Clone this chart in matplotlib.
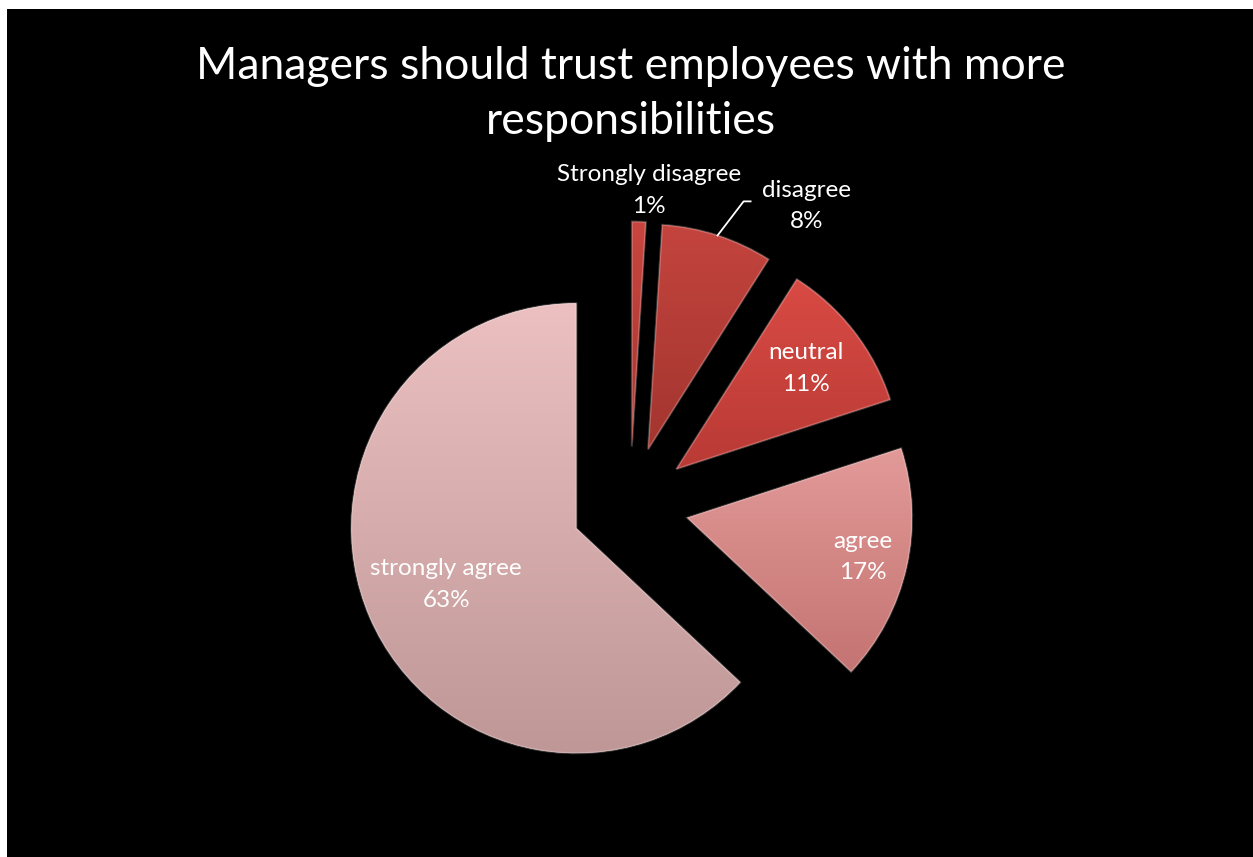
import numpy as np
import matplotlib
matplotlib.use("Agg")
import matplotlib.pyplot as plt
from matplotlib.patches import Wedge
from matplotlib.colors import to_rgb

plt.rcParams['font.family'] = ['Lato', 'DejaVu Sans']

# Survey answers, clockwise from 12 o'clock
answers = ['Strongly disagree', 'disagree', 'neutral', 'agree', 'strongly agree']
shares = [1, 8, 11, 17, 63]
top_colors = ['#c8463f', '#c4443e', '#d94a44', '#e29a98', '#ecc0c0']
bottom_colors = ['#a83631', '#a3352f', '#b93a35', '#c47472', '#bf9797']
# label distance (fraction of radius) and angle tweak (degrees)
label_dist = [1.14, 1.29, 0.73, 0.80, 0.63]
label_turn = [-2, -15, 0, 0, 0]

W, H = 1253, 857
fig = plt.figure(figsize=(W / 100, H / 100), dpi=100, facecolor='white')
ax = fig.add_axes([7 / W, 0, 1 - 7 / W, (H - 9) / H])
ax.set_facecolor('black')

cx, cy, r = 630, 352, 225
explode = [0.26 * r] * len(shares)   # pie offsets are in data units
wedges, _ = ax.pie(shares, explode=explode, radius=r, center=(cx, cy),
                   startangle=90, counterclock=False, frame=True,
                   wedgeprops=dict(linewidth=0))
fig.patches.append(plt.Rectangle((7 / W, 0), 1, (H - 9) / H, transform=fig.transFigure,
                                 facecolor='black', zorder=-10))

# vertical gradient fill + light rim on every wedge
for w, c0, c1 in zip(wedges, top_colors, bottom_colors):
    bb = w.get_path().get_extents()
    t = np.linspace(0, 1, 256)[:, None]
    grad = (1 - t)[..., None] * np.array(to_rgb(c0)) + t[..., None] * np.array(to_rgb(c1))
    grad = np.repeat(grad, 2, axis=1)
    im = ax.imshow(grad, extent=(bb.x0, bb.x1, bb.y0, bb.y1), origin='upper',
                   aspect='auto', zorder=2, interpolation='bilinear')
    im.set_clip_path(w)
    w.set_facecolor(c0)
    rim = Wedge(w.center, w.r, w.theta1, w.theta2, fill=False,
                edgecolor='white', alpha=0.22, linewidth=1.5, zorder=3)
    ax.add_patch(rim)
ax.set_xlim(7, W)
ax.set_ylim(0, H - 9)
ax.set_aspect('equal')
ax.axis('off')

# labels
for i, w in enumerate(wedges):
    ang = np.deg2rad((w.theta1 + w.theta2) / 2 + label_turn[i])
    ox, oy = w.center
    x = ox + label_dist[i] * r * np.cos(ang)
    y = oy + label_dist[i] * r * np.sin(ang)
    ax.text(x, y, f'{answers[i]}\n{shares[i]}%', color='white', fontsize=17.5,
            ha='center', va='center', linespacing=1.6, zorder=5)
    if answers[i] == 'disagree':
        mid = np.deg2rad((w.theta1 + w.theta2) / 2)
        ex, ey = ox + r * np.cos(mid), oy + r * np.sin(mid)
        ax.plot([ex, ex + 26, ex + 33], [ey, ey + 34, ey + 34], color='white',
                linewidth=1.3, zorder=5)

ax.text(631, H - 94, 'Managers should trust employees with more\nresponsibilities',
        color='white', fontsize=32, ha='center', va='center', linespacing=1.45)

fig.savefig('out.png', dpi=100, facecolor='white')
